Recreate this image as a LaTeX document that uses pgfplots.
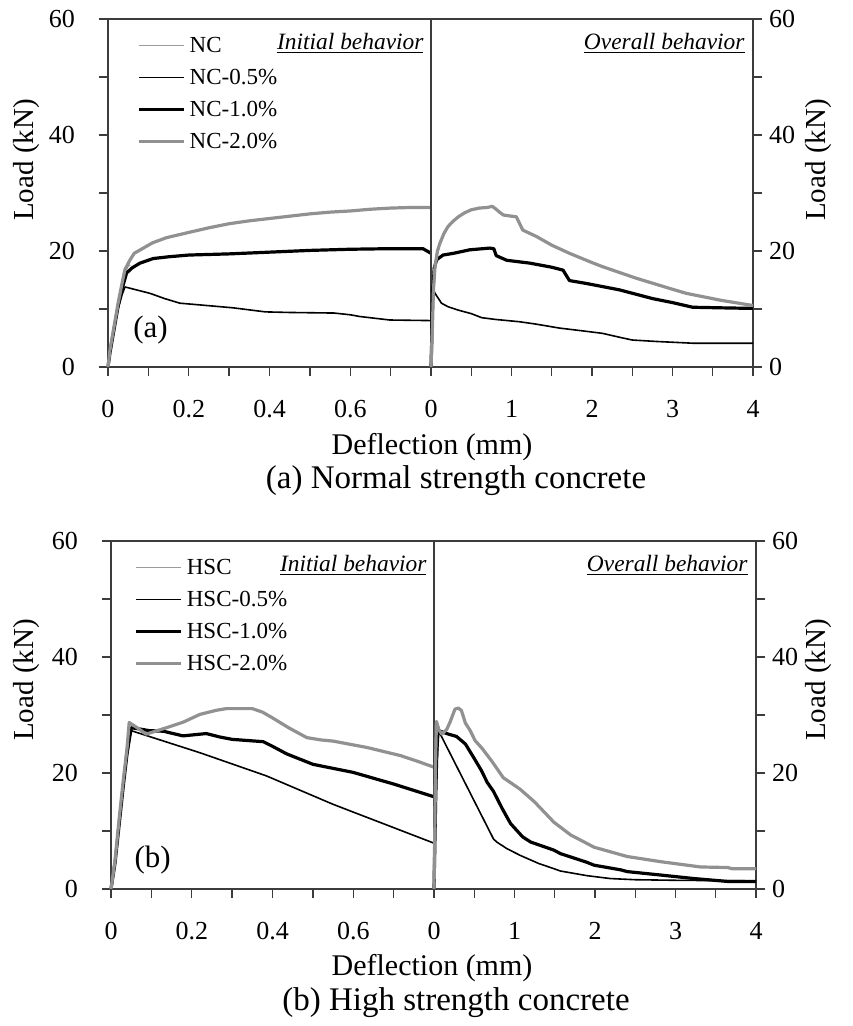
\documentclass[border=0pt]{standalone}
\usepackage{pgfplots}
\pgfplotsset{compat=1.18}
\usepackage{fontspec}
\setmainfont{Liberation Serif}
\definecolor{gthick}{RGB}{145,145,145}
\definecolor{gthin}{RGB}{155,155,155}
\definecolor{axc}{RGB}{60,60,60}
\pgfplotsset{
 base/.style={scale only axis, height=174pt, ymin=0, ymax=60, clip=false,
   ytick={0,10,20,30,40,50,60}, yticklabels={0,,20,,40,,60},
   tick align=outside, major tick length=4.5pt, tick style={axc, line width=0.7pt},
   axis line style={axc, line width=0.8pt},
   xtick pos=left,
   /pgf/number format/assume math mode=true,
   ticklabel style={font=\fontsize{13}{13}\selectfont},
   xticklabel style={yshift=-8.5pt},
   every axis plot/.append style={line join=round},
   legend cell align=left,
   legend image code/.code={\draw[##1] (0pt,0pt) -- (22.5pt,0pt);},
 },
 L/.style={base, width=161.5pt, xmin=0, xmax=0.8, ytick pos=left,
   yticklabel style={xshift=-8.5pt},
   xtick={0,0.1,0.2,0.3,0.4,0.5,0.6,0.7,0.8}, xticklabels={0,,0.2,,0.4,,0.6,,}},
 R/.style={base, width=161pt, xmin=0, xmax=4, ytick pos=right, yticklabel pos=right,
   xtick={0,0.5,1,1.5,2,2.5,3,3.5,4}, xticklabels={0,,1,,2,,3,,4}},
 s0/.style={gthin, line width=0.7pt},
 s05/.style={black, line width=0.8pt},
 s10/.style={black, line width=1.6pt},
 s20/.style={gthick, line width=1.6pt},
 leg/.style={legend style={draw=none, fill=none, at={(rel axis cs:#1)}, anchor=north west,
   font=\fontsize{11.5}{11.5}\selectfont, inner sep=0pt, row sep=0pt, column sep=2pt,
   nodes={inner sep=0pt, text height=11.5pt, text depth=4.5pt}}},
}
\begin{document}
\begin{tikzpicture}
\path[use as bounding box] (0,0) rectangle (426pt,513pt);

% ---------------- (a) left
\begin{axis}[L, at={(54pt,329.5pt)}, anchor=south west, leg={0.09,0.971}]
\addplot[s0] coordinates {(0,0) (0.01,4) (0.025,10.5) (0.04,16) (0.05,17.4) (0.055,17.6)};
\addlegendentry{NC}
\addplot[s05] coordinates {(0,0) (0.005,2.5) (0.015,6.5) (0.025,10) (0.035,12.5) (0.042,13.8) (0.07,13.3) (0.104,12.7) (0.14,11.8) (0.178,11) (0.228,10.7) (0.31,10.2) (0.39,9.5) (0.45,9.4) (0.56,9.3) (0.6,9) (0.624,8.7) (0.698,8.1) (0.8,8.0)};
\addlegendentry{NC-0.5\%}
\addplot[s10] coordinates {(0,0) (0.005,2.5) (0.015,6.5) (0.025,10.5) (0.035,13.5) (0.046,16.2) (0.06,17.1) (0.079,17.9) (0.112,18.7) (0.15,19.0) (0.2,19.3) (0.3,19.5) (0.4,19.8) (0.5,20.1) (0.6,20.3) (0.7,20.4) (0.78,20.4) (0.8,19.6)};
\addlegendentry{NC-1.0\%}
\addplot[s20] coordinates {(0,0) (0.005,3) (0.015,7) (0.025,11) (0.035,14.5) (0.042,16.8) (0.054,18.4) (0.065,19.6) (0.0875,20.5) (0.11,21.4) (0.145,22.3) (0.2,23.2) (0.25,24) (0.3,24.7) (0.35,25.2) (0.4,25.6) (0.45,26) (0.5,26.4) (0.55,26.7) (0.6,26.9) (0.65,27.2) (0.7,27.4) (0.75,27.5) (0.8,27.5)};
\addlegendentry{NC-2.0\%}
\node[anchor=north east, inner sep=0pt, font=\fontsize{11.7}{12}\selectfont] at (rel axis cs:0.978,0.96) {\underline{\textit{Initial behavior}}};
\node[anchor=west, inner sep=0pt, font=\fontsize{15.5}{16}\selectfont] at (rel axis cs:0.077,0.106) {(a)};
\end{axis}

% ---------------- (a) right
\begin{axis}[R, at={(215.5pt,329.5pt)}, anchor=south west]
\addplot[s0] coordinates {(0,0) (0.015,10) (0.03,17.3)};
\addplot[s05] coordinates {(0,0) (0.01,13.8) (0.05,12.7) (0.13,11) (0.21,10.4) (0.34,9.8) (0.5,9.2) (0.63,8.5) (0.8,8.2) (1.1,7.8) (1.3,7.4) (1.6,6.7) (1.9,6.2) (2.13,5.8) (2.35,5.1) (2.5,4.65) (2.8,4.4) (3.25,4.1) (4.0,4.1)};
\addplot[s10] coordinates {(0,0) (0.01,5) (0.02,12) (0.04,17) (0.07,18.5) (0.15,19.3) (0.28,19.6) (0.48,20.2) (0.73,20.5) (0.78,20.4) (0.81,19.2) (0.94,18.4) (1.23,17.9) (1.5,17.2) (1.64,16.7) (1.72,14.9) (1.93,14.4) (2.34,13.3) (2.75,11.8) (3.0,11.1) (3.25,10.3) (3.6,10.2) (4.0,10.1)};
\addplot[s20] coordinates {(0,0) (0.02,8) (0.03,13.3) (0.05,17.3) (0.08,20) (0.11,21.3) (0.16,23) (0.21,24.2) (0.28,25.2) (0.34,25.9) (0.42,26.6) (0.5,27.1) (0.6,27.4) (0.7,27.5) (0.76,27.7) (0.8,27.3) (0.86,26.6) (0.9,26.2) (1.0,26.0) (1.06,25.9) (1.14,23.6) (1.31,22.5) (1.5,21) (1.72,19.6) (2.0,18) (2.13,17.3) (2.55,15.3) (3.0,13.4) (3.17,12.7) (3.6,11.5) (4.0,10.6)};
\node[anchor=north east, inner sep=0pt, font=\fontsize{11.7}{12}\selectfont] at (rel axis cs:0.975,0.96) {\underline{\textit{Overall behavior}}};
\end{axis}

% ---------------- (b) left
\begin{axis}[L, at={(55.5pt,68.5pt)}, anchor=south west, leg={0.072,0.971}]
\addplot[s0] coordinates {(0,0) (0.01,5) (0.02,12) (0.03,19) (0.045,28.5)};
\addlegendentry{HSC}
\addplot[s05] coordinates {(0,0) (0.01,4.5) (0.02,11) (0.03,17.5) (0.04,23) (0.05,27.3) (0.22,23.5) (0.385,19.5) (0.55,14.6) (0.8,7.9)};
\addlegendentry{HSC-0.5\%}
\addplot[s10] coordinates {(0,0) (0.01,4.5) (0.02,11) (0.03,17.5) (0.04,23.5) (0.05,27.8) (0.07,27.6) (0.095,27.3) (0.13,27.2) (0.178,26.4) (0.236,26.8) (0.27,26.2) (0.30,25.8) (0.377,25.4) (0.40,24.6) (0.435,23.3) (0.50,21.5) (0.6,20.1) (0.7,18.1) (0.8,15.9)};
\addlegendentry{HSC-1.0\%}
\addplot[s20] coordinates {(0,0) (0.01,5) (0.02,12) (0.03,18.5) (0.04,24.5) (0.045,28.7) (0.065,27.8) (0.087,26.7) (0.11,27.2) (0.137,27.8) (0.18,28.8) (0.22,30.1) (0.26,30.8) (0.286,31.1) (0.35,31.1) (0.375,30.5) (0.40,29.5) (0.44,27.8) (0.485,26.1) (0.52,25.7) (0.55,25.5) (0.634,24.4) (0.717,23) (0.76,22) (0.8,21)};
\addlegendentry{HSC-2.0\%}
\node[anchor=north east, inner sep=0pt, font=\fontsize{11.7}{12}\selectfont] at (rel axis cs:0.978,0.96) {\underline{\textit{Initial behavior}}};
\node[anchor=west, inner sep=0pt, font=\fontsize{15.5}{16}\selectfont] at (rel axis cs:0.072,0.083) {(b)};
\end{axis}

% ---------------- (b) right
\begin{axis}[R, at={(217pt,68.5pt)}, anchor=south west]
\addplot[s0] coordinates {(0,0) (0.01,14) (0.02,28.7)};
\addplot[s05] coordinates {(0,0) (0.03,20) (0.06,27.2) (0.74,8.6) (0.78,8.1) (0.9,7) (1.07,5.8) (1.3,4.4) (1.49,3.5) (1.57,3.1) (1.9,2.3) (2.19,1.8) (2.5,1.6) (3.0,1.5) (4.0,1.4)};
\addplot[s10] coordinates {(0,0) (0.02,15) (0.04,27) (0.075,27.2) (0.18,26.7) (0.28,26.3) (0.39,25) (0.5,22.5) (0.59,20.4) (0.66,18.4) (0.74,16.8) (0.85,13.8) (0.95,11.3) (1.1,9) (1.2,8.1) (1.49,6.7) (1.57,6.1) (1.9,4.6) (1.99,4.1) (2.32,3.3) (2.4,3.0) (2.82,2.4) (3.23,1.8) (3.65,1.3) (4.0,1.3)};
\addplot[s20] coordinates {(0,0) (0.01,10) (0.02,22) (0.03,28.9) (0.06,27.5) (0.096,26.7) (0.158,27.5) (0.2,28.8) (0.26,31.0) (0.3,31.2) (0.34,30.8) (0.39,28.6) (0.45,27.3) (0.51,25.6) (0.6,24.2) (0.72,22) (0.86,19.2) (1.07,17.2) (1.25,15) (1.49,11.5) (1.7,9.3) (1.99,7.2) (2.4,5.6) (2.82,4.7) (3.31,3.8) (3.65,3.7) (3.7,3.5) (4.0,3.5)};
\node[anchor=north east, inner sep=0pt, font=\fontsize{11.7}{12}\selectfont] at (rel axis cs:0.975,0.96) {\underline{\textit{Overall behavior}}};
\end{axis}

% ---------------- labels
\node[font=\fontsize{15}{15}\selectfont] at (216pt,289.5pt) {Deflection (mm)};
\node[font=\fontsize{16.5}{17}\selectfont] at (228pt,272.5pt) {(a) Normal strength concrete};
\node[font=\fontsize{15}{15}\selectfont] at (216pt,29pt) {Deflection (mm)};
\node[font=\fontsize{16.5}{17}\selectfont] at (228pt,11.5pt) {(b) High strength concrete};
\node[rotate=90, font=\fontsize{14.5}{15}\selectfont] at (13.5pt,433pt) {Load (kN)};
\node[rotate=90, font=\fontsize{14.5}{15}\selectfont] at (409.5pt,433pt) {Load (kN)};
\node[rotate=90, font=\fontsize{14.5}{15}\selectfont] at (13.5pt,173pt) {Load (kN)};
\node[rotate=90, font=\fontsize{14.5}{15}\selectfont] at (409.5pt,173pt) {Load (kN)};
\end{tikzpicture}
\end{document}
